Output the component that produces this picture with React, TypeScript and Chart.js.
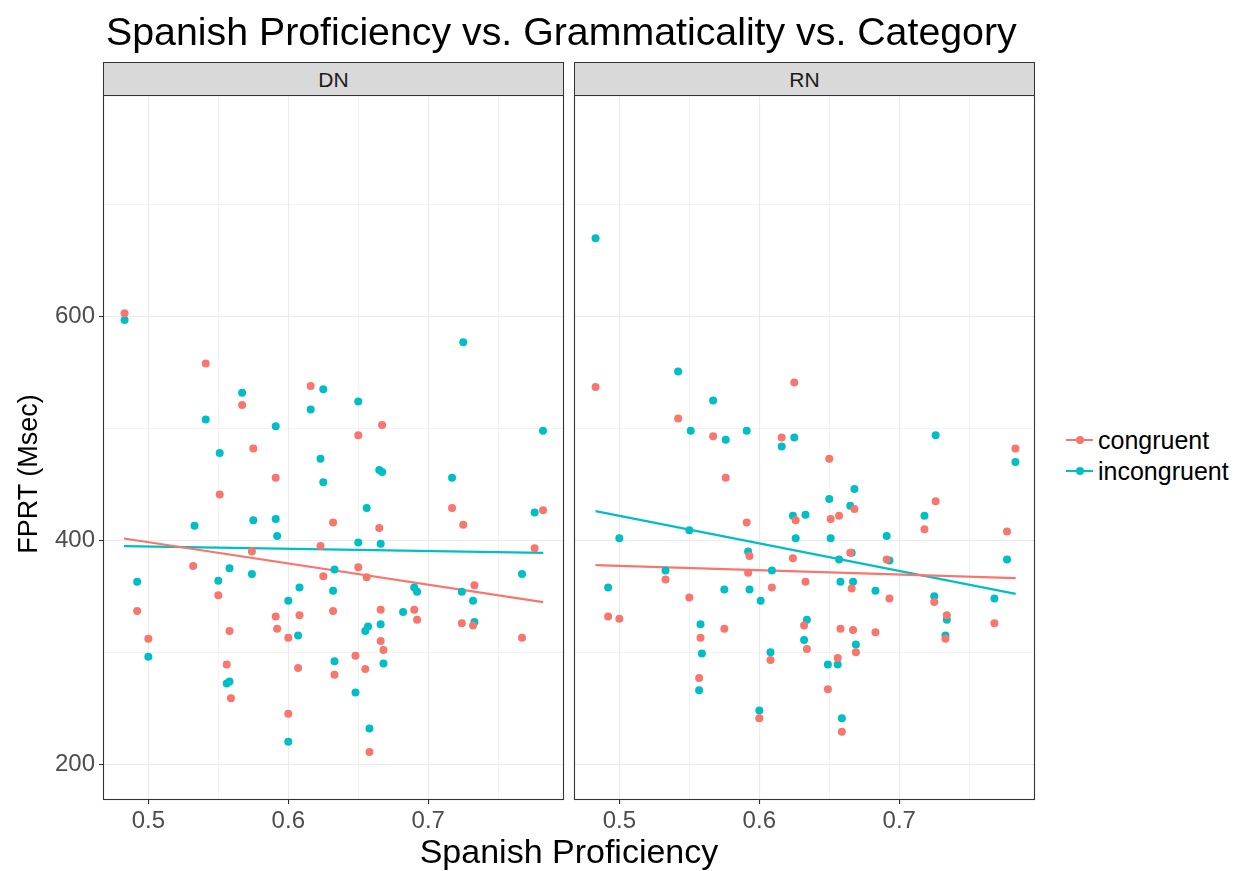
import React, { useEffect, useRef } from "react";
import { Chart, registerables } from "chart.js";

Chart.register(...registerables);

// Axis ticks (major ones are labelled, minor ones only carry a thin grid line)
const xMajorTicks = [0.5, 0.6, 0.7];
const xMinorTicks = [0.55, 0.65, 0.75];
const yMajorTicks = [200, 400, 600];
const yMinorTicks = [300, 500, 700];
const xRange = [0.4676, 0.797];
const yRange = [168, 798];

const facets = ["DN", "RN"];
const groups = ["congruent", "incongruent"];
const groupColors = ["#F8766D", "#00BFC4"];

// Spanish proficiency vs. FPRT, category DN
const dnCongruent: [number, number][] = [
  [0.483, 603], [0.541, 558], [0.567, 521], [0.616, 538], [0.667, 503], [0.65, 494],
  [0.575, 482], [0.591, 456], [0.551, 441], [0.717, 429], [0.725, 414], [0.782, 427],
  [0.632, 416], [0.665, 411], [0.623, 395], [0.574, 390], [0.776, 393], [0.532, 377],
  [0.55, 351], [0.492, 337], [0.625, 368], [0.65, 376], [0.656, 367], [0.632, 337],
  [0.591, 332], [0.608, 333], [0.592, 321], [0.6, 313], [0.558, 319], [0.5, 312],
  [0.666, 338], [0.666, 310], [0.668, 302], [0.648, 297], [0.633, 280], [0.655, 285],
  [0.607, 286], [0.556, 289], [0.69, 338], [0.692, 329], [0.733, 360], [0.724, 326],
  [0.732, 324], [0.767, 313], [0.559, 259], [0.6, 245], [0.658, 211],
];
const dnIncongruent: [number, number][] = [
  [0.483, 597], [0.567, 532], [0.625, 535], [0.616, 517], [0.65, 524], [0.725, 577],
  [0.541, 508], [0.591, 502], [0.782, 498], [0.551, 478], [0.623, 473], [0.625, 452],
  [0.665, 463], [0.667, 461], [0.717, 456], [0.656, 429], [0.776, 425], [0.533, 413],
  [0.575, 418], [0.591, 419], [0.592, 404], [0.65, 398], [0.666, 397], [0.558, 375],
  [0.574, 370], [0.55, 364], [0.492, 363], [0.633, 374], [0.608, 358], [0.632, 355],
  [0.6, 346], [0.607, 315], [0.5, 296], [0.666, 325], [0.655, 319], [0.657, 323],
  [0.668, 290], [0.633, 292], [0.682, 336], [0.69, 358], [0.692, 354], [0.724, 354],
  [0.732, 346], [0.733, 327], [0.767, 370], [0.556, 272], [0.558, 274], [0.648, 264],
  [0.6, 220], [0.658, 232],
];

// Spanish proficiency vs. FPRT, category RN
const rnCongruent: [number, number][] = [
  [0.483, 537], [0.625, 541], [0.542, 509], [0.567, 493], [0.616, 492], [0.65, 473],
  [0.783, 482], [0.576, 456], [0.668, 428], [0.726, 435], [0.626, 418], [0.651, 419],
  [0.657, 422], [0.591, 416], [0.718, 410], [0.777, 408], [0.593, 386], [0.624, 384],
  [0.665, 389], [0.691, 383], [0.533, 365], [0.592, 371], [0.633, 363], [0.666, 357],
  [0.609, 358], [0.55, 349], [0.693, 348], [0.725, 345], [0.492, 332], [0.5, 330],
  [0.558, 313], [0.575, 321], [0.632, 324], [0.634, 303], [0.658, 321], [0.667, 320],
  [0.669, 300], [0.683, 318], [0.734, 333], [0.733, 312], [0.768, 326], [0.608, 293],
  [0.656, 295], [0.557, 277], [0.649, 267], [0.6, 241], [0.659, 229],
];
const rnIncongruent: [number, number][] = [
  [0.483, 670], [0.542, 551], [0.567, 525], [0.551, 498], [0.576, 490], [0.591, 498],
  [0.625, 492], [0.616, 484], [0.726, 494], [0.783, 470], [0.668, 446], [0.65, 437],
  [0.665, 431], [0.624, 422], [0.633, 423], [0.718, 422], [0.5, 402], [0.55, 409],
  [0.626, 402], [0.651, 402], [0.691, 404], [0.592, 390], [0.657, 383], [0.666, 389],
  [0.693, 382], [0.777, 383], [0.533, 373], [0.609, 373], [0.658, 363], [0.667, 363],
  [0.492, 358], [0.575, 356], [0.593, 356], [0.683, 355], [0.601, 346], [0.725, 350],
  [0.768, 348], [0.558, 325], [0.559, 299], [0.634, 329], [0.632, 311], [0.669, 307],
  [0.734, 329], [0.733, 315], [0.608, 300], [0.649, 289], [0.656, 289], [0.557, 266],
  [0.6, 248], [0.659, 241],
];

// Linear fit end points per facet and group
const dnCongruentFit: [number, number][] = [[0.4826, 401.7], [0.7821, 344.8]];
const dnIncongruentFit: [number, number][] = [[0.4826, 394.8], [0.7821, 388.8]];
const rnCongruentFit: [number, number][] = [[0.483, 377.8], [0.7832, 366.2]];
const rnIncongruentFit: [number, number][] = [[0.483, 426.1], [0.7832, 352.2]];

const FONT = "'Liberation Sans', Arial, Helvetica, sans-serif";
const PAGE_W = 1243;
const PAGE_H = 871;
const PANEL_TOP = 95;
const PANEL_BOTTOM = 800;
const X_AXIS_H = 40;
const Y_AXIS_W = 103;
const STRIP_TOP = 62;
const BORDER = "#333333";
const GRID = "#EBEBEB";

const panelBorder = {
  id: "panelBorder",
  afterDraw(chart: any) {
    const { ctx, chartArea } = chart;
    ctx.save();
    ctx.strokeStyle = BORDER;
    ctx.lineWidth = 1.1;
    ctx.strokeRect(
      Math.round(chartArea.left) + 0.5,
      Math.round(chartArea.top) + 0.5,
      Math.round(chartArea.right - chartArea.left) - 1,
      Math.round(chartArea.bottom - chartArea.top) - 1
    );
    ctx.restore();
  },
};

type PanelProps = {
  congruent: [number, number][];
  incongruent: [number, number][];
  congruentFit: [number, number][];
  incongruentFit: [number, number][];
  showYAxis: boolean;
  left: number;
  width: number;
  padLeft: number;
  padRight: number;
};

const toPoints = (arr: [number, number][]) => arr.map(([x, y]) => ({ x, y }));

function Panel(props: PanelProps) {
  const ref = useRef<HTMLCanvasElement>(null);
  const { congruent, incongruent, congruentFit, incongruentFit, showYAxis, left, width, padLeft, padRight } = props;

  useEffect(() => {
    if (!ref.current) return;
    const xTicks = [...xMajorTicks, ...xMinorTicks].sort((a, b) => a - b);
    const yTicks = [...yMajorTicks, ...yMinorTicks].sort((a, b) => a - b);
    const pointSet = (data: [number, number][], color: string) => ({
      data: toPoints(data),
      backgroundColor: color,
      borderColor: color,
      borderWidth: 0,
      pointRadius: 4,
      pointHoverRadius: 4,
      showLine: false,
    });
    const fitSet = (data: [number, number][], color: string) => ({
      data: toPoints(data),
      borderColor: color,
      backgroundColor: color,
      borderWidth: 2.2,
      pointRadius: 0,
      pointHoverRadius: 0,
      showLine: true,
      fill: false,
      tension: 0,
    });

    const chart = new Chart(ref.current, {
      type: "scatter",
      data: {
        datasets: [
          pointSet(congruent, groupColors[0]),
          pointSet(incongruent, groupColors[1]),
          fitSet(congruentFit, groupColors[0]),
          fitSet(incongruentFit, groupColors[1]),
        ] as any,
      },
      options: {
        animation: false,
        responsive: false,
        maintainAspectRatio: false,
        events: [],
        layout: {
          padding: {
            left: padLeft,
            right: padRight,
            top: PANEL_TOP,
            bottom: PAGE_H - PANEL_BOTTOM - X_AXIS_H,
          },
        },
        plugins: {
          legend: { display: false },
          tooltip: { enabled: false },
          title: { display: false },
        },
        scales: {
          x: {
            type: "linear",
            min: xRange[0],
            max: xRange[1],
            afterBuildTicks: (s: any) => {
              s.ticks = xTicks.map((v) => ({ value: v }));
            },
            afterFit: (s: any) => {
              s.height = X_AXIS_H;
              s.paddingLeft = 0;
              s.paddingRight = 0;
            },
            border: { display: false },
            grid: {
              color: GRID,
              lineWidth: (c: any) => (xMajorTicks.includes(c.tick?.value) ? 1.1 : 0.6),
              drawTicks: true,
              tickLength: 4,
              tickWidth: 1.1,
              tickColor: (c: any) => (xMajorTicks.includes(c.tick?.value) ? BORDER : "rgba(0,0,0,0)"),
            },
            ticks: {
              autoSkip: false,
              maxRotation: 0,
              minRotation: 0,
              padding: 3,
              color: "#4D4D4D",
              font: { family: FONT, size: 24 },
              callback: (v: any) => (xMajorTicks.includes(v) ? Number(v).toFixed(1) : ""),
            },
          },
          y: {
            type: "linear",
            min: yRange[0],
            max: yRange[1],
            afterBuildTicks: (s: any) => {
              s.ticks = yTicks.map((v) => ({ value: v }));
            },
            afterFit: (s: any) => {
              s.width = showYAxis ? Y_AXIS_W : 0;
              s.paddingTop = 0;
              s.paddingBottom = 0;
            },
            border: { display: false },
            grid: {
              color: GRID,
              lineWidth: (c: any) => (yMajorTicks.includes(c.tick?.value) ? 1.1 : 0.6),
              drawTicks: showYAxis,
              tickLength: 4,
              tickWidth: 1.1,
              tickColor: (c: any) => (yMajorTicks.includes(c.tick?.value) ? BORDER : "rgba(0,0,0,0)"),
            },
            ticks: {
              display: showYAxis,
              autoSkip: false,
              padding: 4,
              color: "#4D4D4D",
              font: { family: FONT, size: 24 },
              callback: (v: any) => (yMajorTicks.includes(v) ? String(v) : ""),
            },
          },
        },
      } as any,
      plugins: [panelBorder],
    });
    return () => chart.destroy();
  }, []);

  return (
    <canvas
      ref={ref}
      width={width}
      height={PAGE_H}
      style={{ position: "absolute", left, top: 0, width, height: PAGE_H }}
    />
  );
}

const textBase: React.CSSProperties = {
  position: "absolute",
  fontFamily: FONT,
  lineHeight: 1,
  whiteSpace: "nowrap",
  margin: 0,
};

function Strip({ label, left, width }: { label: string; left: number; width: number }) {
  return (
    <div
      style={{
        ...textBase,
        left,
        top: STRIP_TOP,
        width,
        height: PANEL_TOP - STRIP_TOP + 1,
        boxSizing: "border-box",
        background: "#D9D9D9",
        border: `1.1px solid ${BORDER}`,
        color: "#1A1A1A",
        fontSize: 21,
        display: "flex",
        alignItems: "center",
        justifyContent: "center",
      }}
    >
      {label}
    </div>
  );
}

function LegendRow({ label, color, y }: { label: string; color: string; y: number }) {
  return (
    <>
      <div style={{ position: "absolute", left: 1066, top: y - 1, width: 27, height: 2.2, background: color }} />
      <div
        style={{
          position: "absolute",
          left: 1076,
          top: y - 4,
          width: 8,
          height: 8,
          borderRadius: "50%",
          background: color,
        }}
      />
      <div style={{ ...textBase, left: 1098, top: y - 12.5, fontSize: 25, color: "#000" }}>{label}</div>
    </>
  );
}

export default function App() {
  useEffect(() => {
    document.body.style.margin = "0";
    document.body.style.background = "#FFFFFF";
  }, []);

  return (
    <div style={{ position: "absolute", left: 0, top: 0, width: PAGE_W, height: PAGE_H, background: "#FFFFFF", overflow: "hidden" }}>
      <Panel
        congruent={dnCongruent}
        incongruent={dnIncongruent}
        congruentFit={dnCongruentFit}
        incongruentFit={dnIncongruentFit}
        showYAxis={true}
        left={0}
        width={570}
        padLeft={0}
        padRight={6}
      />
      <Panel
        congruent={rnCongruent}
        incongruent={rnIncongruent}
        congruentFit={rnCongruentFit}
        incongruentFit={rnIncongruentFit}
        showYAxis={false}
        left={566}
        width={475}
        padLeft={8}
        padRight={6}
      />
      <Strip label={facets[0]} left={103} width={461} />
      <Strip label={facets[1]} left={574} width={461} />

      <div style={{ ...textBase, left: 106, top: 12, fontSize: 39.3, color: "#000" }}>
        Spanish Proficiency vs. Grammaticality vs. Category
      </div>

      <div style={{ ...textBase, left: 103, width: 932, top: 834, fontSize: 34, color: "#000", textAlign: "center" }}>
        Spanish Proficiency
      </div>

      <div
        style={{
          ...textBase,
          left: 30 - 150,
          top: 474 - 15,
          width: 300,
          height: 30,
          fontSize: 27,
          color: "#000",
          textAlign: "center",
          transform: "rotate(-90deg)",
          transformOrigin: "150px 15px",
        }}
      >
        FPRT (Msec)
      </div>

      <LegendRow label={groups[0]} color={groupColors[0]} y={440} />
      <LegendRow label={groups[1]} color={groupColors[1]} y={471} />
    </div>
  );
}
